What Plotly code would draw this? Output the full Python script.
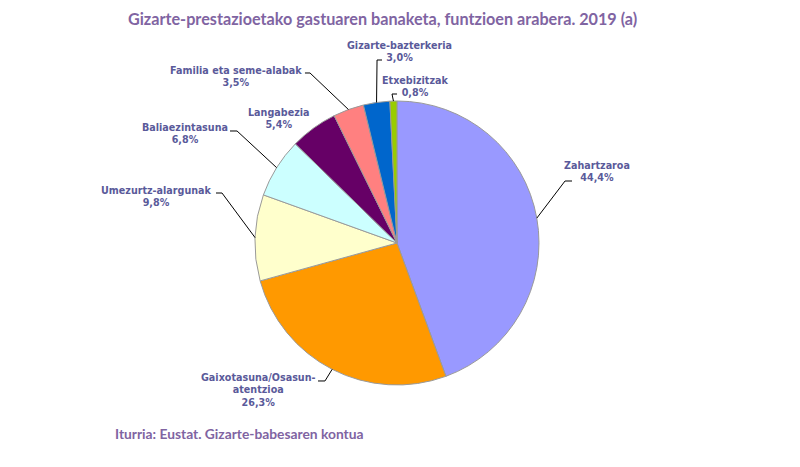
import math
import plotly.graph_objects as go

# Gizarte-prestazioetako gastua funtzioen arabera, 2019 (%)
categories = [
    "Zahartzaroa",
    "Gaixotasuna/Osasun-<br>atentzioa",
    "Umezurtz-alargunak",
    "Baliaezintasuna",
    "Langabezia",
    "Familia eta seme-alabak",
    "Gizarte-bazterkeria",
    "Etxebizitzak",
]
values = [44.4, 26.3, 9.8, 6.8, 5.4, 3.5, 3.0, 0.8]
colors = ["#9999FF", "#FF9900", "#FFFFCC", "#CCFFFF", "#660066",
          "#FF8080", "#0066CC", "#99CC00"]

W, H = 800, 467
CX, CY, R = 397, 243, 142  # pie centre and radius, px

# label block centre (px) and leader elbow / tick end (px); None = no leader
label_pos = [(597, 171), (258, 390), (156, 196), (185, 134),
             (278, 118), (236, 76), (399, 51), (415, 86)]
leaders = [((565, 181), (572, 181)), ((325, 381), (318, 381)),
           ((222, 193), (216, 193)), ((237, 131), (230, 131)),
           None, ((310, 73), (305, 73)),
           ((377, 60), (382, 60)), ((392, 94), (397, 94))]

LABEL_COLOR = "#5A5A9A"
TITLE_COLOR = "#8064A2"


def px(x, y):
    return x / W, 1 - y / H


fig = go.Figure(go.Pie(
    labels=categories,
    values=values,
    sort=False,
    direction="clockwise",
    rotation=0,
    marker=dict(colors=colors, line=dict(color="#9A9A9A", width=1)),
    textinfo="none",
    hoverinfo="label+percent",
    showlegend=False,
    domain=dict(x=[(CX - R) / W, (CX + R) / W],
                y=[(H - CY - R) / H, (H - CY + R) / H]),
))

shapes = []
annotations = []
total = sum(values)
cum = 0.0
for cat, v, (lx, ly), lead in zip(categories, values, label_pos, leaders):
    mid = (cum + v / 2) / total * 2 * math.pi
    cum += v
    ex = CX + R * math.sin(mid)
    ey = CY - R * math.cos(mid)
    if lead is not None:
        (bx, by), (tx, ty) = lead
        p = [px(ex, ey), px(bx, by), px(tx, ty)]
        path = "M {:.4f} {:.4f} L {:.4f} {:.4f} L {:.4f} {:.4f}".format(
            p[0][0], p[0][1], p[1][0], p[1][1], p[2][0], p[2][1])
        shapes.append(dict(type="path", xref="paper", yref="paper", path=path,
                           line=dict(color="#000000", width=1)))
    ax, ay = px(lx, ly)
    pct = f"{v:.1f}".replace(".", ",") + "%"
    annotations.append(dict(
        x=ax, y=ay, xref="paper", yref="paper", xanchor="center", yanchor="middle",
        text=f"{cat}<br>{pct}", showarrow=False, align="center",
        font=dict(family="DejaVu Sans", size=9.6, color=LABEL_COLOR, weight="bold"),
    ))

tx, ty = px(382, 19)
annotations.append(dict(
    x=tx, y=ty, xref="paper", yref="paper", xanchor="center", yanchor="middle",
    text="Gizarte-prestazioetako gastuaren banaketa, funtzioen arabera. 2019 (a)",
    showarrow=False,
    font=dict(family="Lato", size=16.2, color=TITLE_COLOR, weight="bold"),
))
fx, fy = px(113, 433)
annotations.append(dict(
    x=fx, y=fy, xref="paper", yref="paper", xanchor="left", yanchor="middle",
    text="Iturria: Eustat. Gizarte-babesaren kontua",
    showarrow=False,
    font=dict(family="Lato", size=13.8, color=TITLE_COLOR, weight="bold"),
))

fig.update_layout(
    width=W, height=H,
    margin=dict(l=0, r=0, t=0, b=0),
    paper_bgcolor="white",
    plot_bgcolor="white",
    shapes=shapes,
    annotations=annotations,
)

fig.write_html("out.html")
